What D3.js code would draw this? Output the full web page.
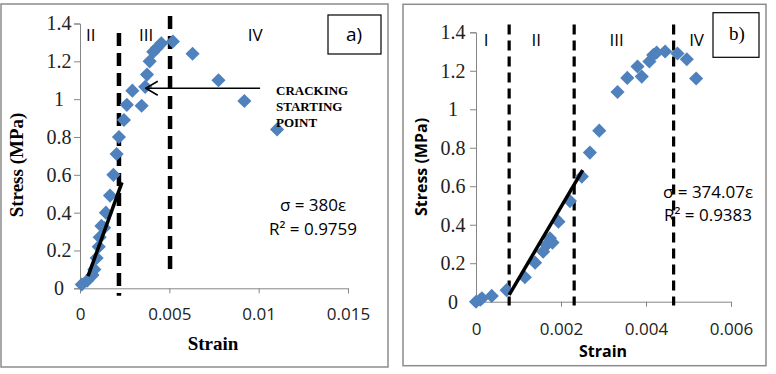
<!DOCTYPE html>
<html>
<head>
<meta charset="utf-8">
<script src="https://cdn.jsdelivr.net/npm/d3@7"></script>
<style>
  body { margin: 0; background: #fff; }
  svg { display: block; }
</style>
</head>
<body>
<div id="container"></div>
<script>
"use strict";

// panel a) data
const aStrain = [0.0001, 0.0004, 0.0007, 0.0008, 0.00093, 0.00105, 0.0011, 0.0012, 0.00135, 0.00145, 0.00168, 0.00187,
  0.00205, 0.00218, 0.00246, 0.00262, 0.00293, 0.00345, 0.00365, 0.00375, 0.0039, 0.0041, 0.0043, 0.00455,
  0.0052, 0.0063, 0.00775, 0.0092, 0.01103];
const aStress = [0.02, 0.04, 0.07, 0.10, 0.16, 0.22, 0.27, 0.33, 0.32, 0.40, 0.49, 0.60,
  0.71, 0.80, 0.89, 0.97, 1.045, 0.965, 1.065, 1.13, 1.20, 1.25, 1.27, 1.295,
  1.305, 1.24, 1.10, 0.99, 0.84];
const aFitStrain = [0.00045, 0.00235];
const aFitStress = [0.064, 0.56];
const aDividers = [0.00218, 0.00504];
const aDivTop = [1.35, 1.44];
const aDivBottom = [-0.04, 0.08];
const aRegions = ["II", "III", "IV"];
const aRegionX = [0.0006, 0.0037, 0.0098];
const aXTicks = [0, 0.005, 0.01, 0.015];
const aXLabels = ["0", "0.005", "0.01", "0.015"];

// panel b) data
const bStrain = [0.0, 0.0001, 0.00014, 0.00037, 0.00072, 0.00115, 0.00139, 0.00158, 0.00166, 0.00174, 0.0018,
  0.00194, 0.00221, 0.00249, 0.00268, 0.0029, 0.00333, 0.00356, 0.0038, 0.0039, 0.00408, 0.00417, 0.00425,
  0.00445, 0.00474, 0.00496, 0.00518];
const bStress = [0.0, 0.01, 0.018, 0.03, 0.06, 0.127, 0.203, 0.26, 0.295, 0.33, 0.307,
  0.416, 0.523, 0.65, 0.775, 0.889, 1.09, 1.163, 1.222, 1.17, 1.248, 1.282, 1.295,
  1.30, 1.29, 1.26, 1.16];
const bFitStrain = [0.00078, 0.00251];
const bFitStress = [0.035, 0.684];
const bDividers = [0.00078, 0.00231, 0.00465];
const bDivTop = [1.44, 1.44, 1.44];
const bDivBottom = [-0.02, -0.02, -0.02];
const bRegions = ["I", "II", "III", "IV"];
const bRegionX = [0.00024, 0.00142, 0.00331, 0.00519];
const bXTicks = [0, 0.002, 0.004, 0.006];
const bXLabels = ["0", "0.002", "0.004", "0.006"];

const yTicks = [0, 0.2, 0.4, 0.6, 0.8, 1, 1.2, 1.4];
const yLabels = ["0", "0.2", "0.4", "0.6", "0.8", "1", "1.2", "1.4"];

const blue = "#4f81bd";
const serif = "'Liberation Serif', 'Times New Roman', serif";
const sans = "'Open Sans', 'Liberation Sans', sans-serif";

const svg = d3.select("#container").append("svg")
  .attr("width", 776).attr("height", 374);

// open arrow head, tip at the +x end
svg.append("defs").append("marker")
  .attr("id", "openhead")
  .attr("viewBox", "0 0 14 16")
  .attr("refX", 13).attr("refY", 8)
  .attr("markerWidth", 14).attr("markerHeight", 16)
  .attr("markerUnits", "userSpaceOnUse")
  .attr("orient", "auto")
  .append("path")
  .attr("d", "M1,1 L13,8 L1,15")
  .attr("fill", "none").attr("stroke", "#000").attr("stroke-width", 1.6);

const diamond = d3.symbol(d3.symbolSquare, 100);

function drawPanel(cfg) {
  const g = svg.append("g");

  g.append("rect")
    .attr("x", cfg.frame[0]).attr("y", cfg.frame[1])
    .attr("width", cfg.frame[2]).attr("height", cfg.frame[3])
    .attr("fill", "#fff").attr("stroke", "#8c8c8c").attr("stroke-width", 1.5);

  const x = d3.scaleLinear().domain(cfg.xDomain).range(cfg.xRange);
  const y = d3.scaleLinear().domain([0, 1.4]).range(cfg.yRange);

  // y axis, labels centred in a column left of the ticks
  const ya = g.append("g")
    .attr("transform", `translate(${cfg.xRange[0]},0)`)
    .call(d3.axisLeft(y).tickValues(yTicks).tickFormat((d, i) => yLabels[i]).tickSizeOuter(0).tickSize(6));
  ya.select(".domain").attr("stroke", "#868686");
  ya.selectAll(".tick line").attr("stroke", "#868686");
  ya.selectAll("text")
    .attr("x", -cfg.yLabelOffset)
    .attr("text-anchor", "middle")
    .style("font-family", serif).style("font-size", "20px").attr("fill", "#222");

  // x axis
  const xa = g.append("g")
    .attr("transform", `translate(0,${cfg.yRange[0]})`)
    .call(d3.axisBottom(x).tickValues(cfg.xTicks).tickFormat((d, i) => cfg.xLabels[i]).tickSizeOuter(0).tickSize(5).tickPadding(cfg.xPad));
  xa.select(".domain").attr("stroke", "#868686");
  xa.selectAll(".tick line").attr("stroke", "#868686");
  xa.selectAll("text").style("font-family", sans).style("font-size", "17px").attr("fill", "#222");

  // region dividers
  g.selectAll(".divider")
    .data(cfg.dividers)
    .enter().append("line")
    .attr("class", "divider")
    .attr("x1", d => x(d)).attr("x2", d => x(d))
    .attr("y1", (d, i) => y(cfg.divTop[i])).attr("y2", (d, i) => y(cfg.divBottom[i]))
    .attr("stroke", "#000").attr("stroke-width", cfg.dashWidth)
    .attr("stroke-dasharray", cfg.dash);

  // points
  g.selectAll(".pt")
    .data(cfg.strain)
    .enter().append("path")
    .attr("class", "pt")
    .attr("d", diamond)
    .attr("transform", (d, i) => `translate(${x(d)},${y(cfg.stress[i])}) rotate(45)`)
    .attr("fill", blue);

  // fit line
  g.append("line")
    .attr("x1", x(cfg.fitX[0])).attr("y1", y(cfg.fitY[0]))
    .attr("x2", x(cfg.fitX[1])).attr("y2", y(cfg.fitY[1]))
    .attr("stroke", "#000").attr("stroke-width", 3.5);

  // region labels
  g.selectAll(".region")
    .data(cfg.regions)
    .enter().append("text")
    .attr("class", "region")
    .attr("x", (d, i) => x(cfg.regionX[i]))
    .attr("y", y(cfg.regionY))
    .attr("text-anchor", "middle")
    .style("font-family", sans).style("font-size", "17px")
    .text(d => d);

  return { g, x, y };
}

// ---- panel a)
const pa = drawPanel({
  frame: [1, 4, 387, 363],
  xDomain: [0, 0.015], xRange: [80, 348], yRange: [288.3, 23.5],
  xTicks: aXTicks, xLabels: aXLabels, xPad: 15, yLabelOffset: 21,
  dividers: aDividers, divTop: aDivTop, divBottom: aDivBottom, dashWidth: 4.5, dash: "13,7",
  strain: aStrain, stress: aStress, fitX: aFitStrain, fitY: aFitStress,
  regions: aRegions, regionX: aRegionX, regionY: 1.31
});

pa.g.append("text")
  .attr("x", 213).attr("y", 350)
  .attr("text-anchor", "middle")
  .style("font-family", serif).style("font-size", "19px").style("font-weight", "bold")
  .text("Strain");

pa.g.append("text")
  .attr("transform", "translate(23,165) rotate(-90)")
  .attr("text-anchor", "middle")
  .style("font-family", serif).style("font-size", "19px").style("font-weight", "bold")
  .text("Stress (MPa)");

pa.g.append("rect")
  .attr("x", 328).attr("y", 15).attr("width", 53).attr("height", 39)
  .attr("fill", "#fff").attr("stroke", "#000").attr("stroke-width", 1.2);
pa.g.append("text")
  .attr("x", 354).attr("y", 41)
  .attr("text-anchor", "middle")
  .style("font-family", sans).style("font-size", "19px")
  .text("a)");

// arrow to cracking point
pa.g.append("line")
  .attr("x1", pa.x(0.01008)).attr("y1", pa.y(1.058))
  .attr("x2", pa.x(0.00368)).attr("y2", pa.y(1.058))
  .attr("stroke", "#000").attr("stroke-width", 1.6)
  .attr("marker-end", "url(#openhead)");

pa.g.append("text")
  .attr("x", 276).attr("y", 95)
  .style("font-family", serif).style("font-size", "13px").style("font-weight", "bold")
  .selectAll("tspan")
  .data(["CRACKING", "STARTING", "POINT"])
  .enter().append("tspan")
  .attr("x", 276).attr("dy", (d, i) => i === 0 ? 0 : 16)
  .text(d => d);

pa.g.append("text")
  .attr("x", 313).attr("y", 211)
  .attr("text-anchor", "middle")
  .style("font-family", sans).style("font-size", "17px")
  .text("σ = 380ε");
pa.g.append("text")
  .attr("x", 313).attr("y", 235)
  .attr("text-anchor", "middle")
  .style("font-family", sans).style("font-size", "17px")
  .text("R² = 0.9759");

// ---- panel b)
const pb = drawPanel({
  frame: [403, 4.3, 363, 361.4],
  xDomain: [0, 0.006], xRange: [476, 731], yRange: [301.7, 32.3],
  xTicks: bXTicks, xLabels: bXLabels, xPad: 16, yLabelOffset: 23,
  dividers: bDividers, divTop: bDivTop, divBottom: bDivBottom, dashWidth: 3.2, dash: "10,6",
  strain: bStrain, stress: bStress, fitX: bFitStrain, fitY: bFitStress,
  regions: bRegions, regionX: bRegionX, regionY: 1.33
});

pb.g.append("text")
  .attr("x", 603).attr("y", 357)
  .attr("text-anchor", "middle")
  .style("font-family", sans).style("font-size", "16px").style("font-weight", "bold")
  .text("Strain");

pb.g.append("text")
  .attr("transform", "translate(427,167) rotate(-90)")
  .attr("text-anchor", "middle")
  .style("font-family", sans).style("font-size", "16px").style("font-weight", "bold")
  .text("Stress (MPa)");

pb.g.append("rect")
  .attr("x", 713).attr("y", 12.7).attr("width", 46).attr("height", 44.6)
  .attr("fill", "#fff").attr("stroke", "#000").attr("stroke-width", 1.2);
pb.g.append("text")
  .attr("x", 737).attr("y", 40)
  .attr("text-anchor", "middle")
  .style("font-family", serif).style("font-size", "19px")
  .text("b)");

pb.g.append("text")
  .attr("x", 708).attr("y", 198)
  .attr("text-anchor", "middle")
  .style("font-family", sans).style("font-size", "17px")
  .text("σ = 374.07ε");
pb.g.append("text")
  .attr("x", 708).attr("y", 221)
  .attr("text-anchor", "middle")
  .style("font-family", sans).style("font-size", "17px")
  .text("R² = 0.9383");
</script>
</body>
</html>
